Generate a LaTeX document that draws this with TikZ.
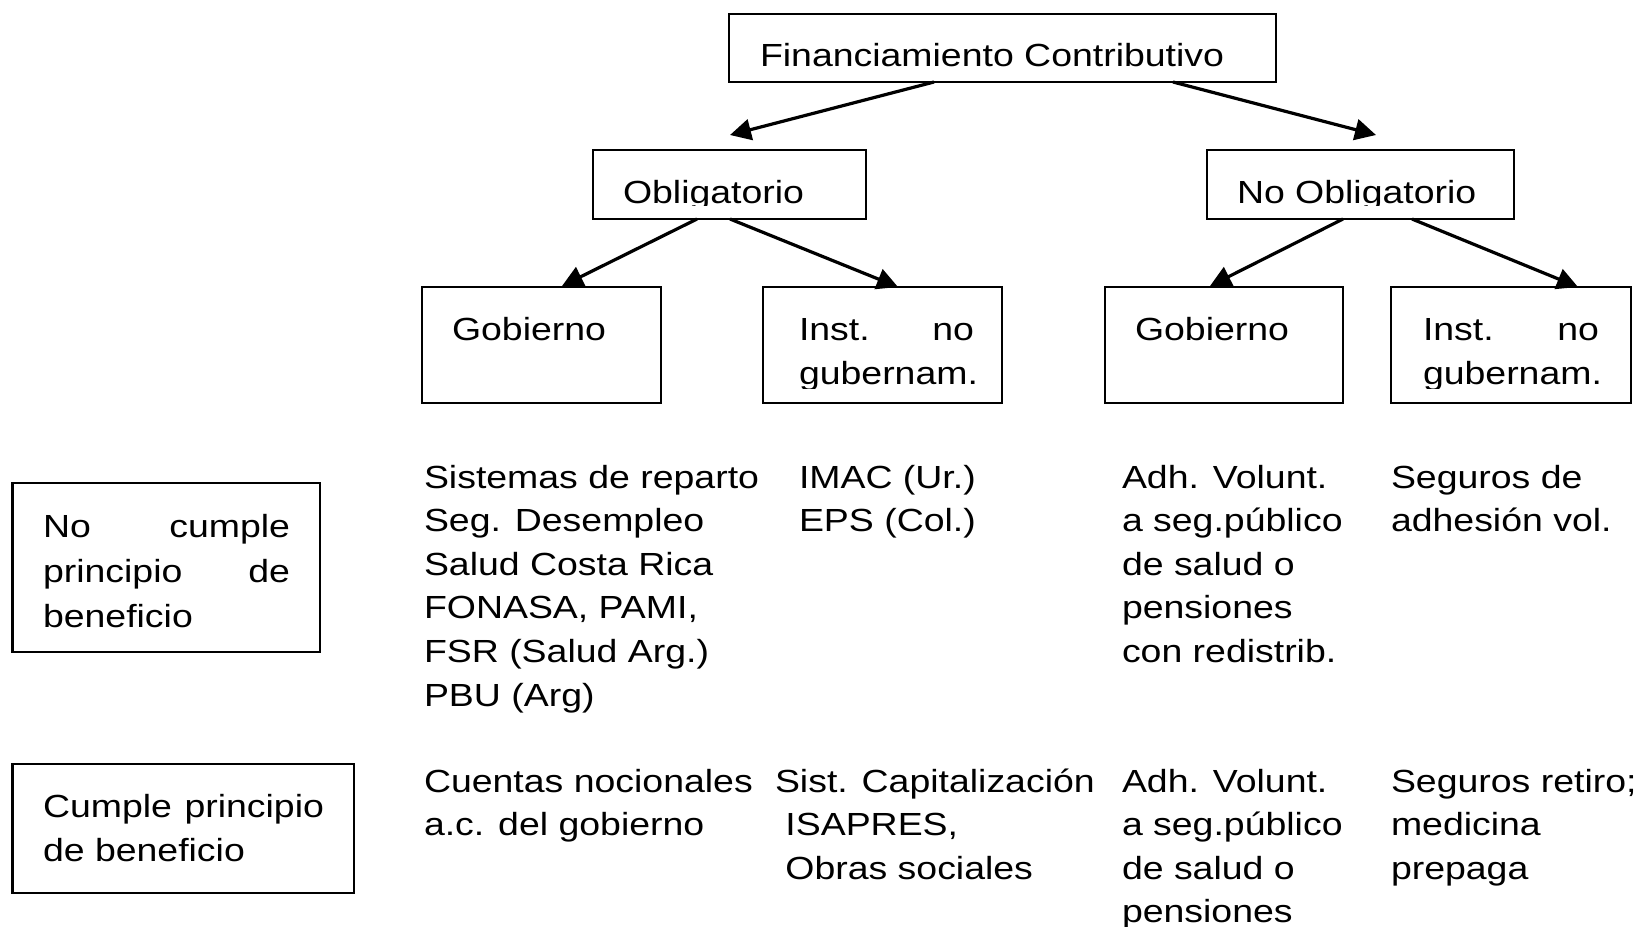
\documentclass[tikz,border=0pt]{standalone}
\usepackage{fontspec}
\setmainfont[FakeStretch=1.17]{Liberation Sans}
\usetikzlibrary{calc,arrows.meta}
\newcommand\dfont{\fontsize{16pt}{21.8pt}\selectfont}
\newcommand\vlines[1]{\begin{tabular}[t]{@{}l@{}}#1\end{tabular}}
\tikzset{
  box/.style={draw, line width=1.25pt, inner sep=0pt, outer sep=0pt, anchor=north west},
  arr/.style={-{Triangle[length=10.5pt,width=10.5pt]}, line width=1.6pt},
  txt/.style={inner sep=0pt, outer sep=0pt, anchor=base west, font=\dfont},
}
\begin{document}
\begin{tikzpicture}[x=0.5pt,y=-0.5pt]
\useasboundingbox (0,0) rectangle (1640,927);
\clip (0,0) rectangle (1640,927);
\fill[white] (0,0) rectangle (1640,927);

% tree boxes
\node[box, minimum width=273.5pt, minimum height=34pt] (T) at (729,14) {};
\node[box, minimum width=136.5pt, minimum height=34.5pt] (O) at (593,150) {};
\node[box, minimum width=153.5pt, minimum height=34.5pt] (N) at (1207,150) {};
\node[box, minimum width=119.5pt, minimum height=58pt] (G1) at (422,287) {};
\node[box, minimum width=119.5pt, minimum height=58pt] (I1) at (763,287) {};
\node[box, minimum width=119pt, minimum height=58pt] (G2) at (1105,287) {};
\node[box, minimum width=120pt, minimum height=58pt] (I2) at (1391,287) {};
% left boxes
\node[box, minimum width=153.75pt, minimum height=84.5pt] (L1) at (12.5,483) {};
\node[box, minimum width=170.75pt, minimum height=64.5pt] (L2) at (12.5,764) {};

% tree texts
\node[txt] (tT) at (760,66) {Financiamiento Contributivo};
\begin{scope}
  \clip (593,150) rectangle (866,205.5);
  \node[txt] (tO) at (623,203) {Obligatorio};
\end{scope}
\begin{scope}
  \clip (1207,150) rectangle (1514,205.5);
  \node[txt] (tN) at (1237,203) {No Obligatorio};
\end{scope}
\node[txt] (tG1) at (452,340) {Gobierno};
\node[txt] (tG2) at (1135,340) {Gobierno};
\begin{scope}
  \clip (763,287) rectangle (1002,388);
  \node[txt, font=\fontsize{16pt}{22pt}\selectfont] (tI1) at (799,340) {\vlines{\hbox to 87.5pt{Inst.\hfill no}\\gubernam.}};
\end{scope}
\begin{scope}
  \clip (1391,287) rectangle (1631,388);
  \node[txt, font=\fontsize{16pt}{22pt}\selectfont] (tI2) at (1423,340) {\vlines{\hbox to 88pt{Inst.\hfill no}\\gubernam.}};
\end{scope}

% left box texts
\node[txt, font=\fontsize{16pt}{22.5pt}\selectfont] (tL1) at (43,537)
  {\vlines{\hbox to 123.5pt{No\hfill cumple}\\\hbox to 123.5pt{principio\hfill de}\\beneficio}};
\node[txt, font=\fontsize{16pt}{22pt}\selectfont] (tL2) at (43,817)
  {\vlines{\hbox to 140.5pt{Cumple\hfill principio}\\de beneficio}};

% row 1 columns
\node[txt] (cA1) at (424,488) {\vlines{Sistemas de reparto\\Seg. Desempleo\\Salud Costa Rica\\FONASA, PAMI,\\FSR (Salud Arg.)\\PBU (Arg)}};
\node[txt] (cB1) at (799,488) {\vlines{IMAC (Ur.)\\EPS (Col.)}};
\node[txt] (cC1) at (1122,488) {\vlines{Adh. Volunt.\\a seg.público\\de salud o\\pensiones\\con redistrib.}};
\node[txt] (cD1) at (1391,488) {\vlines{Seguros de\\adhesión vol.}};

% row 2 columns
\node[txt] (cA2) at (424,792) {\vlines{Cuentas nocionales\\a.c. del gobierno}};
\node[txt] (cB2) at (775,792) {\vlines{Sist. Capitalización\\\hspace*{5.2pt}ISAPRES,\\\hspace*{5.2pt}Obras sociales}};
\node[txt] (cC2) at (1122,792) {\vlines{Adh. Volunt.\\a seg.público\\de salud o\\pensiones}};
\node[txt] (cD2) at (1391,792) {\vlines{Seguros retiro;\\medicina\\prepaga}};

% arrows
\draw[arr] ($(T.south west)+(205,0)$) -- ($(O.north west)+(137,-15)$);
\draw[arr] ($(T.south west)+(444,0)$) -- ($(N.north west)+(169,-15)$);
\draw[arr] ($(O.south west)+(104,0)$) -- ($(G1.north west)+(140,-1)$);
\draw[arr] ($(O.south west)+(137,0)$) -- ($(I1.north west)+(135,0)$);
\draw[arr] ($(N.south west)+(136,0)$) -- ($(G2.north west)+(105,-1)$);
\draw[arr] ($(N.south west)+(205,0)$) -- ($(I2.north west)+(187,0)$);
\end{tikzpicture}
\end{document}
